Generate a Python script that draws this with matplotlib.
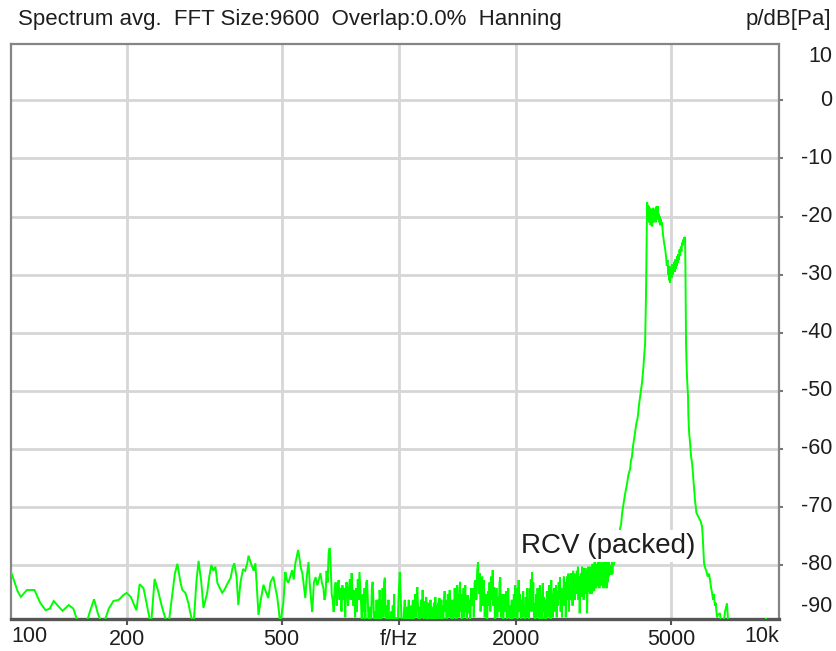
import matplotlib
matplotlib.use("Agg")
import matplotlib.pyplot as plt
import matplotlib.ticker as mticker

plt.rcParams['font.family'] = ['Liberation Sans', 'DejaVu Sans']

# ---------------- data ----------------
# low, sparse part of the spectrum
low_freq = [
    100, 105, 107, 111, 116, 120, 124, 127, 130, 134, 137, 142, 146, 151, 157, 161, 165, 169, 174, 180,
    185, 191, 196, 200, 205, 212, 216, 221, 226, 231, 236, 241, 246, 251, 256, 262, 266, 270, 275, 278,
    283, 288, 292, 297, 302, 306, 311, 315, 322, 326, 330, 334, 338, 342, 347, 352, 357, 363, 370, 374,
    378, 383, 387, 392, 398, 403, 408, 411, 416, 420, 424, 428, 432, 436, 442, 449, 455, 462, 468, 476,
    482, 487, 492, 496, 501, 505, 511, 515, 520, 526, 532, 537, 542, 547, 551, 556, 560, 565, 570, 575,
    580, 586, 590, 595, 599, 605, 611, 617, 623, 629, 634,
]
low_db = [
    -80.3, -84.5, -85.5, -84.3, -84.3, -86.5, -87.8, -87.5, -86.2, -87.2, -87.9, -86.9, -87.5, -90.5, -90.5, -88.0, -85.9, -88.5, -90.5, -87.5,
    -86.2, -86.0, -85.2, -84.8, -85.5, -87.8, -83.3, -84.0, -87.2, -90.5, -82.4, -84.5, -87.0, -89.0, -90.5, -85.0, -81.5, -79.8, -83.0, -84.3,
    -84.8, -86.5, -88.5, -90.5, -83.0, -79.3, -83.0, -87.4, -84.8, -82.0, -80.0, -81.0, -80.3, -83.1, -84.0, -84.8, -84.2, -83.2, -82.2, -80.5,
    -79.7, -82.0, -86.9, -83.0, -80.7, -81.0, -79.7, -78.4, -79.5, -80.3, -81.0, -79.7, -84.0, -88.6, -86.0, -83.4, -84.5, -85.7, -83.0, -82.0,
    -84.0, -85.5, -88.0, -90.5, -88.0, -86.6, -81.2, -82.5, -83.1, -82.0, -80.9, -82.5, -79.7, -78.5, -77.4, -79.0, -80.5, -81.4, -83.5, -85.7,
    -82.0, -79.5, -83.0, -86.0, -88.1, -83.0, -82.1, -83.5, -82.5, -81.4, -83.0,
]

# dense noise floor 640 Hz - 1 kHz
mid1_freq = [
    640, 644, 648, 652, 656, 660, 664, 668, 672, 676,
    680, 684, 688, 692, 696, 700, 704, 708, 712, 716,
    720, 724, 728, 732, 736, 740, 744, 748, 752, 756,
    760, 764, 768, 772, 776, 780, 784, 788, 792, 796,
    800, 804, 808, 812, 816, 820, 824, 828, 832, 836,
    840, 844, 848, 852, 856, 860, 864, 868, 872, 876,
    880, 884, 888, 892, 896, 900, 904, 908, 912, 916,
    920, 924, 928, 932, 936, 940, 944, 948, 952, 956,
    960, 964, 968, 972, 976, 980, 984, 988, 992, 996,
]
mid1_db = [
    -84.0, -86.0, -85.2, -81.0, -83.0, -78.0, -77.1, -80.0, -85.0, -86.0,
    -88.1, -84.0, -83.0, -87.0, -84.0, -82.6, -86.0, -84.0, -88.0, -83.5,
    -86.0, -84.0, -89.0, -83.0, -83.1, -87.0, -84.5, -82.5, -86.0, -81.4,
    -85.0, -87.0, -84.3, -89.0, -84.0, -88.0, -82.5, -86.0, -81.2, -84.0,
    -87.0, -92.0, -85.0, -88.0, -84.0, -90.0, -83.0, -82.6, -86.0, -91.0,
    -89.0, -87.2, -91.0, -84.0, -82.9, -86.0, -91.0, -88.0, -92.0, -86.0,
    -92.0, -86.0, -90.0, -84.3, -87.0, -91.0, -88.0, -84.0, -89.0, -83.0,
    -82.2, -88.0, -91.0, -87.0, -92.0, -86.0, -92.0, -89.0, -92.0, -88.0,
    -91.0, -87.0, -90.0, -85.0, -91.0, -89.0, -92.0, -90.0, -92.0, -87.0,
]

# 1 kHz - 1.5 kHz
mid2_freq = [
    1000, 1005, 1010, 1015, 1020, 1025, 1030, 1035, 1040, 1045,
    1050, 1055, 1060, 1065, 1070, 1075, 1080, 1085, 1090, 1095,
    1100, 1105, 1110, 1115, 1120, 1125, 1130, 1135, 1140, 1145,
    1150, 1155, 1160, 1165, 1170, 1175, 1180, 1185, 1190, 1195,
    1200, 1205, 1210, 1215, 1220, 1225, 1230, 1235, 1240, 1245,
    1250, 1255, 1260, 1265, 1270, 1275, 1280, 1285, 1290, 1295,
    1300, 1305, 1310, 1315, 1320, 1325, 1330, 1335, 1340, 1345,
    1350, 1355, 1360, 1365, 1370, 1375, 1380, 1385, 1390, 1395,
    1400, 1405, 1410, 1415, 1420, 1425, 1430, 1435, 1440, 1445,
    1450, 1455, 1460, 1465, 1470, 1475, 1480, 1485, 1490, 1495,
]
mid2_db = [
    -84.0, -81.2, -85.0, -89.0, -91.0, -92.0, -88.0, -86.0, -90.0, -87.2,
    -92.0, -88.0, -86.0, -90.0, -87.0, -92.0, -89.0, -86.0, -91.0, -88.0,
    -85.0, -89.0, -85.5, -83.8, -88.0, -91.0, -87.2, -90.0, -86.0, -89.0,
    -84.3, -88.0, -91.0, -86.2, -89.0, -85.5, -90.0, -86.5, -92.0, -87.0,
    -89.0, -86.0, -91.0, -87.2, -88.5, -92.0, -86.5, -90.0, -85.5, -89.0,
    -87.0, -91.0, -86.5, -89.0, -85.7, -90.0, -88.1, -86.0, -91.0, -87.0,
    -89.5, -86.0, -84.5, -88.0, -86.0, -91.0, -88.5, -85.0, -89.0, -86.0,
    -84.3, -89.0, -86.0, -90.0, -87.4, -92.0, -86.0, -89.0, -84.0, -88.0,
    -86.5, -90.0, -83.5, -87.0, -85.0, -89.0, -84.0, -82.9, -88.0, -86.9,
    -90.0, -85.0, -88.0, -84.0, -89.0, -86.0, -83.5, -88.0, -85.2, -90.0,
]

# 1.5 kHz - 2.5 kHz
mid3_freq = [
    1500, 1508, 1516, 1524, 1532, 1540, 1548, 1556, 1564, 1572,
    1580, 1588, 1596, 1604, 1612, 1620, 1628, 1636, 1644, 1652,
    1660, 1668, 1676, 1684, 1692, 1700, 1708, 1716, 1724, 1732,
    1740, 1748, 1756, 1764, 1772, 1780, 1788, 1796, 1804, 1812,
    1820, 1828, 1836, 1844, 1852, 1860, 1868, 1876, 1884, 1892,
    1900, 1908, 1916, 1924, 1932, 1940, 1948, 1956, 1964, 1972,
    1980, 1988, 1996, 2004, 2012, 2020, 2028, 2036, 2044, 2052,
    2060, 2068, 2076, 2084, 2092, 2100, 2108, 2116, 2124, 2132,
    2140, 2148, 2156, 2164, 2172, 2180, 2188, 2196, 2204, 2212,
    2220, 2228, 2236, 2244, 2252, 2260, 2268, 2276, 2284, 2292,
    2300, 2308, 2316, 2324, 2332, 2340, 2348, 2356, 2364, 2372,
    2380, 2388, 2396, 2404, 2412, 2420, 2428, 2436, 2444, 2452,
    2460, 2468, 2476, 2484, 2492,
]
mid3_db = [
    -85.2, -88.3, -86.0, -90.0, -84.0, -87.0, -84.0, -89.0, -83.0, -82.6,
    -86.0, -81.0, -79.5, -85.0, -81.4, -88.0, -84.0, -82.0, -87.0, -82.6,
    -89.0, -85.0, -86.0, -90.0, -84.5, -87.0, -83.0, -88.0, -82.0, -86.0,
    -80.9, -87.0, -83.8, -90.0, -86.0, -84.0, -89.0, -85.5, -88.0, -83.0,
    -82.1, -89.0, -85.0, -86.6, -91.0, -85.0, -88.0, -86.0, -84.5, -90.0,
    -86.0, -84.0, -89.0, -87.0, -91.0, -87.8, -86.0, -90.0, -88.5, -85.0,
    -89.0, -83.5, -87.0, -84.0, -90.0, -87.0, -82.6, -88.0, -85.0, -87.2,
    -91.0, -86.0, -89.0, -84.5, -88.0, -87.0, -91.0, -85.5, -89.0, -84.0,
    -88.0, -86.0, -90.0, -84.0, -87.0, -82.5, -88.0, -81.2, -86.0, -83.0,
    -89.0, -86.6, -91.0, -88.0, -85.0, -89.0, -84.0, -87.0, -85.5, -90.0,
    -83.5, -88.0, -86.0, -91.0, -85.0, -83.1, -88.0, -85.5, -90.0, -88.1,
    -86.0, -91.0, -84.5, -88.0, -85.0, -89.0, -83.5, -87.0, -84.0, -90.0,
    -82.6, -87.0, -85.0, -89.0, -85.5,
]

# 2.5 kHz - 3.5 kHz
mid4_freq = [
    2500, 2510, 2520, 2530, 2540, 2550, 2560, 2570, 2580, 2590,
    2600, 2610, 2620, 2630, 2640, 2650, 2660, 2670, 2680, 2690,
    2700, 2710, 2720, 2730, 2740, 2750, 2760, 2770, 2780, 2790,
    2800, 2810, 2820, 2830, 2840, 2850, 2860, 2870, 2880, 2890,
    2900, 2910, 2920, 2930, 2940, 2950, 2960, 2970, 2980, 2990,
    3000, 3010, 3020, 3030, 3040, 3050, 3060, 3070, 3080, 3090,
    3100, 3110, 3120, 3130, 3140, 3150, 3160, 3170, 3180, 3190,
    3200, 3210, 3220, 3230, 3240, 3250, 3260, 3270, 3280, 3290,
    3300, 3310, 3320, 3330, 3340, 3350, 3360, 3370, 3380, 3390,
    3400, 3410, 3420, 3430, 3440, 3450, 3460, 3470, 3480, 3490,
    3500, 3510, 3520, 3530, 3540,
]
mid4_db = [
    -84.0, -88.0, -86.0, -83.5, -89.0, -84.5, -87.0, -83.0, -86.0, -82.1,
    -88.0, -84.0, -89.0, -84.3, -86.0, -82.0, -87.0, -83.0, -89.0, -85.0,
    -82.0, -86.0, -81.5, -88.0, -84.8, -86.0, -81.4, -85.0, -83.8, -87.0,
    -81.0, -85.5, -81.5, -86.0, -82.5, -85.0, -81.0, -84.0, -80.3, -86.0,
    -82.0, -88.3, -83.0, -81.4, -85.5, -80.3, -84.0, -80.5, -86.0, -81.0,
    -84.0, -80.5, -85.0, -81.0, -88.3, -83.0, -80.3, -84.5, -81.4, -85.0,
    -80.3, -84.0, -80.5, -85.0, -79.8, -83.5, -80.0, -84.5, -79.5, -83.0,
    -80.0, -84.0, -79.8, -83.5, -79.5, -82.5, -80.0, -84.0, -79.5, -83.0,
    -80.0, -83.5, -79.6, -82.5, -79.5, -84.0, -80.0, -83.0, -79.5, -82.5,
    -79.8, -84.0, -79.5, -83.0, -80.0, -82.0, -79.5, -81.5, -80.0, -81.7,
    -80.0, -81.7, -79.5, -81.5, -80.0,
]

# the tone band (about 4.3 - 5.4 kHz) and its skirts
peak_freq = [
    3560, 3600, 3640, 3670, 3700, 3717, 3740, 3761, 3780, 3800,
    3825, 3850, 3880, 3919, 3940, 3960, 3989, 4010, 4040, 4070,
    4090, 4110, 4130, 4150, 4180, 4208, 4240, 4265, 4283, 4295,
    4305, 4320, 4335, 4345, 4355, 4365, 4375, 4385, 4395, 4405,
    4415, 4425, 4435, 4445, 4455, 4465, 4475, 4485, 4495, 4505,
    4515, 4525, 4535, 4545, 4555, 4565, 4575, 4585, 4595, 4605,
    4615, 4625, 4640, 4655, 4670, 4685, 4700, 4715, 4734, 4760,
    4790, 4820, 4850, 4870, 4890, 4910, 4925, 4940, 4955, 4964,
    4975, 4990, 5000, 5015, 5030, 5045, 5060, 5075, 5090, 5105,
    5120, 5135, 5150, 5165, 5180, 5195, 5210, 5230, 5250, 5270,
    5290, 5310, 5328, 5345, 5360, 5375, 5390, 5405, 5424, 5435,
    5445, 5456, 5470, 5490, 5505, 5520, 5530, 5545, 5560, 5580,
    5600, 5625, 5653, 5680, 5700, 5725, 5754, 5780, 5800, 5850,
    5900, 5950, 5997, 6020, 6040, 6068, 6110, 6150, 6200, 6250,
    6287, 6330, 6370, 6400, 6430, 6470, 6500, 6550, 6600, 6670,
    6720, 6800, 6870, 6950, 7000, 7100, 7200, 7300, 7500, 7800,
    8100, 8400, 8700, 8750, 8800, 9000, 9300, 9600,
]
peak_db = [
    -80.0, -78.0, -77.0, -75.0, -73.5, -73.0, -71.0, -70.0, -69.0, -68.0,
    -67.0, -66.0, -64.5, -63.5, -62.0, -61.5, -59.5, -58.5, -57.0, -55.5,
    -55.0, -54.0, -52.5, -51.5, -50.0, -48.5, -46.0, -43.5, -42.0, -38.0,
    -34.0, -26.0, -17.5, -19.5, -18.0, -20.5, -18.2, -21.0, -19.0, -20.5,
    -18.5, -21.5, -19.0, -20.0, -18.8, -21.7, -19.5, -20.5, -18.5, -21.0,
    -19.5, -20.8, -18.7, -20.5, -19.0, -21.0, -18.3, -20.0, -18.5, -19.8,
    -18.2, -20.5, -19.5, -21.0, -20.0, -21.5, -20.5, -21.5, -21.0, -23.0,
    -24.5, -25.5, -27.0, -28.5, -27.5, -30.0, -28.5, -31.0, -29.0, -31.4,
    -28.8, -30.5, -28.6, -30.5, -28.2, -30.0, -28.5, -29.5, -27.8, -29.5,
    -27.4, -29.0, -27.5, -28.5, -26.8, -28.0, -26.5, -27.5, -25.7, -26.8,
    -25.2, -26.0, -24.5, -25.0, -24.0, -24.5, -23.6, -24.0, -23.5, -28.0,
    -35.0, -42.0, -45.0, -48.0, -49.5, -51.0, -54.0, -56.0, -57.5, -58.5,
    -60.0, -61.5, -62.4, -64.0, -65.5, -67.0, -69.0, -70.0, -71.0, -71.5,
    -72.0, -72.5, -73.4, -75.0, -77.0, -79.7, -80.5, -81.0, -82.0, -81.5,
    -82.6, -84.0, -85.0, -86.0, -85.0, -87.0, -86.5, -89.0, -88.5, -88.3,
    -91.0, -90.5, -88.0, -86.6, -90.0, -91.0, -90.0, -92.0, -95.0, -95.0,
    -95.0, -94.0, -92.0, -89.2, -92.0, -95.0, -95.0, -95.0,
]

x_tick_vals = [200, 500, 1000, 2000, 5000]
x_tick_text = ['200', '500', 'f/Hz', '2000', '5000']
y_tick_vals = [0, -10, -20, -30, -40, -50, -60, -70, -80]
y_tick_text = ['0', '-10', '-20', '-30', '-40', '-50', '-60', '-70', '-80']

title_text = 'Spectrum avg.  FFT Size:9600  Overlap:0.0%  Hanning'
unit_text = 'p/dB[Pa]'
trace_label = 'RCV (packed)'

segments = [(low_freq, low_db), (mid1_freq, mid1_db), (mid2_freq, mid2_db),
            (mid3_freq, mid3_db), (mid4_freq, mid4_db), (peak_freq, peak_db)]
freq_hz, level_db = [], []
for fseg, dseg in segments:
    if len(fseg) != len(dseg):
        raise ValueError(f'length mismatch {len(fseg)} vs {len(dseg)} starting at {fseg[0]}')
    freq_hz += fseg
    level_db += dseg

# ---------------- figure ----------------
W, H = 836, 651
fig = plt.figure(figsize=(W / 100, H / 100), dpi=100)
fig.patch.set_facecolor('white')
ax_left, ax_right, ax_top, ax_bottom = 11, 779, 44, 619
ax = fig.add_axes([ax_left / W, 1 - ax_bottom / H, (ax_right - ax_left) / W, (ax_bottom - ax_top) / H])

ax.set_xscale('log')
ax.set_xlim(101, 9450)
ax.set_ylim(-89.3, 9.7)

ax.plot(freq_hz, level_db, color='#00ff00', lw=1.4, solid_joinstyle='miter', zorder=3)

ax.set_xticks(x_tick_vals)
ax.set_xticklabels(x_tick_text)
ax.xaxis.set_minor_locator(mticker.NullLocator())
ax.set_yticks(y_tick_vals)
ax.set_yticklabels([])
ax.grid(True, which='major', color='#d6d6d6', lw=2.0, zorder=0)
ax.set_axisbelow(True)

ax.tick_params(axis='x', which='major', direction='out', length=4, width=1.5, color='#555555',
               labelsize=15.5, labelcolor='#1e1e1e', pad=3)
ax.tick_params(axis='y', which='major', left=False, right=True, direction='out', length=3,
               width=1.5, color='#777777', labelleft=False, labelright=False)

for side in ['left', 'top', 'right']:
    ax.spines[side].set_color('#858585')
    ax.spines[side].set_linewidth(1.6)
ax.spines['bottom'].set_color('#555555')
ax.spines['bottom'].set_linewidth(2.4)

# y tick labels on the right (right aligned)
ytrans = ax.get_yaxis_transform()
xlab = 1 + (832 - ax_right) / (ax_right - ax_left)
for v, t in zip(y_tick_vals, y_tick_text):
    ax.text(xlab, v, t, transform=ytrans, ha='right', va='center', fontsize=15.5, color='#1e1e1e',
            clip_on=False)
ax.text(xlab, 7.6, '10', transform=ytrans, ha='right', va='center', fontsize=15.5, color='#1e1e1e')
ax.text(xlab, -87.1, '-90', transform=ytrans, ha='right', va='center', fontsize=15.5, color='#1e1e1e')

# x edge labels
fig.text(ax_left / W, 1 - 637 / H, '100', ha='left', va='center', fontsize=15.5, color='#1e1e1e')
fig.text(ax_right / W, 1 - 637 / H, '10k', ha='right', va='center', fontsize=15.5, color='#1e1e1e')

# title & unit
fig.text(18 / W, 1 - 19 / H, title_text, ha='left', va='center', fontsize=16, color='#1e1e1e')
fig.text(831 / W, 1 - 19 / H, unit_text, ha='right', va='center', fontsize=16, color='#1e1e1e')

# trace label with white box
fig.text(608 / W, 1 - 546 / H, trace_label, ha='center', va='center', fontsize=20, color='#1e1e1e',
         bbox=dict(facecolor='white', edgecolor='none', pad=2), zorder=5)

fig.savefig('out.png', dpi=100, facecolor='white')
